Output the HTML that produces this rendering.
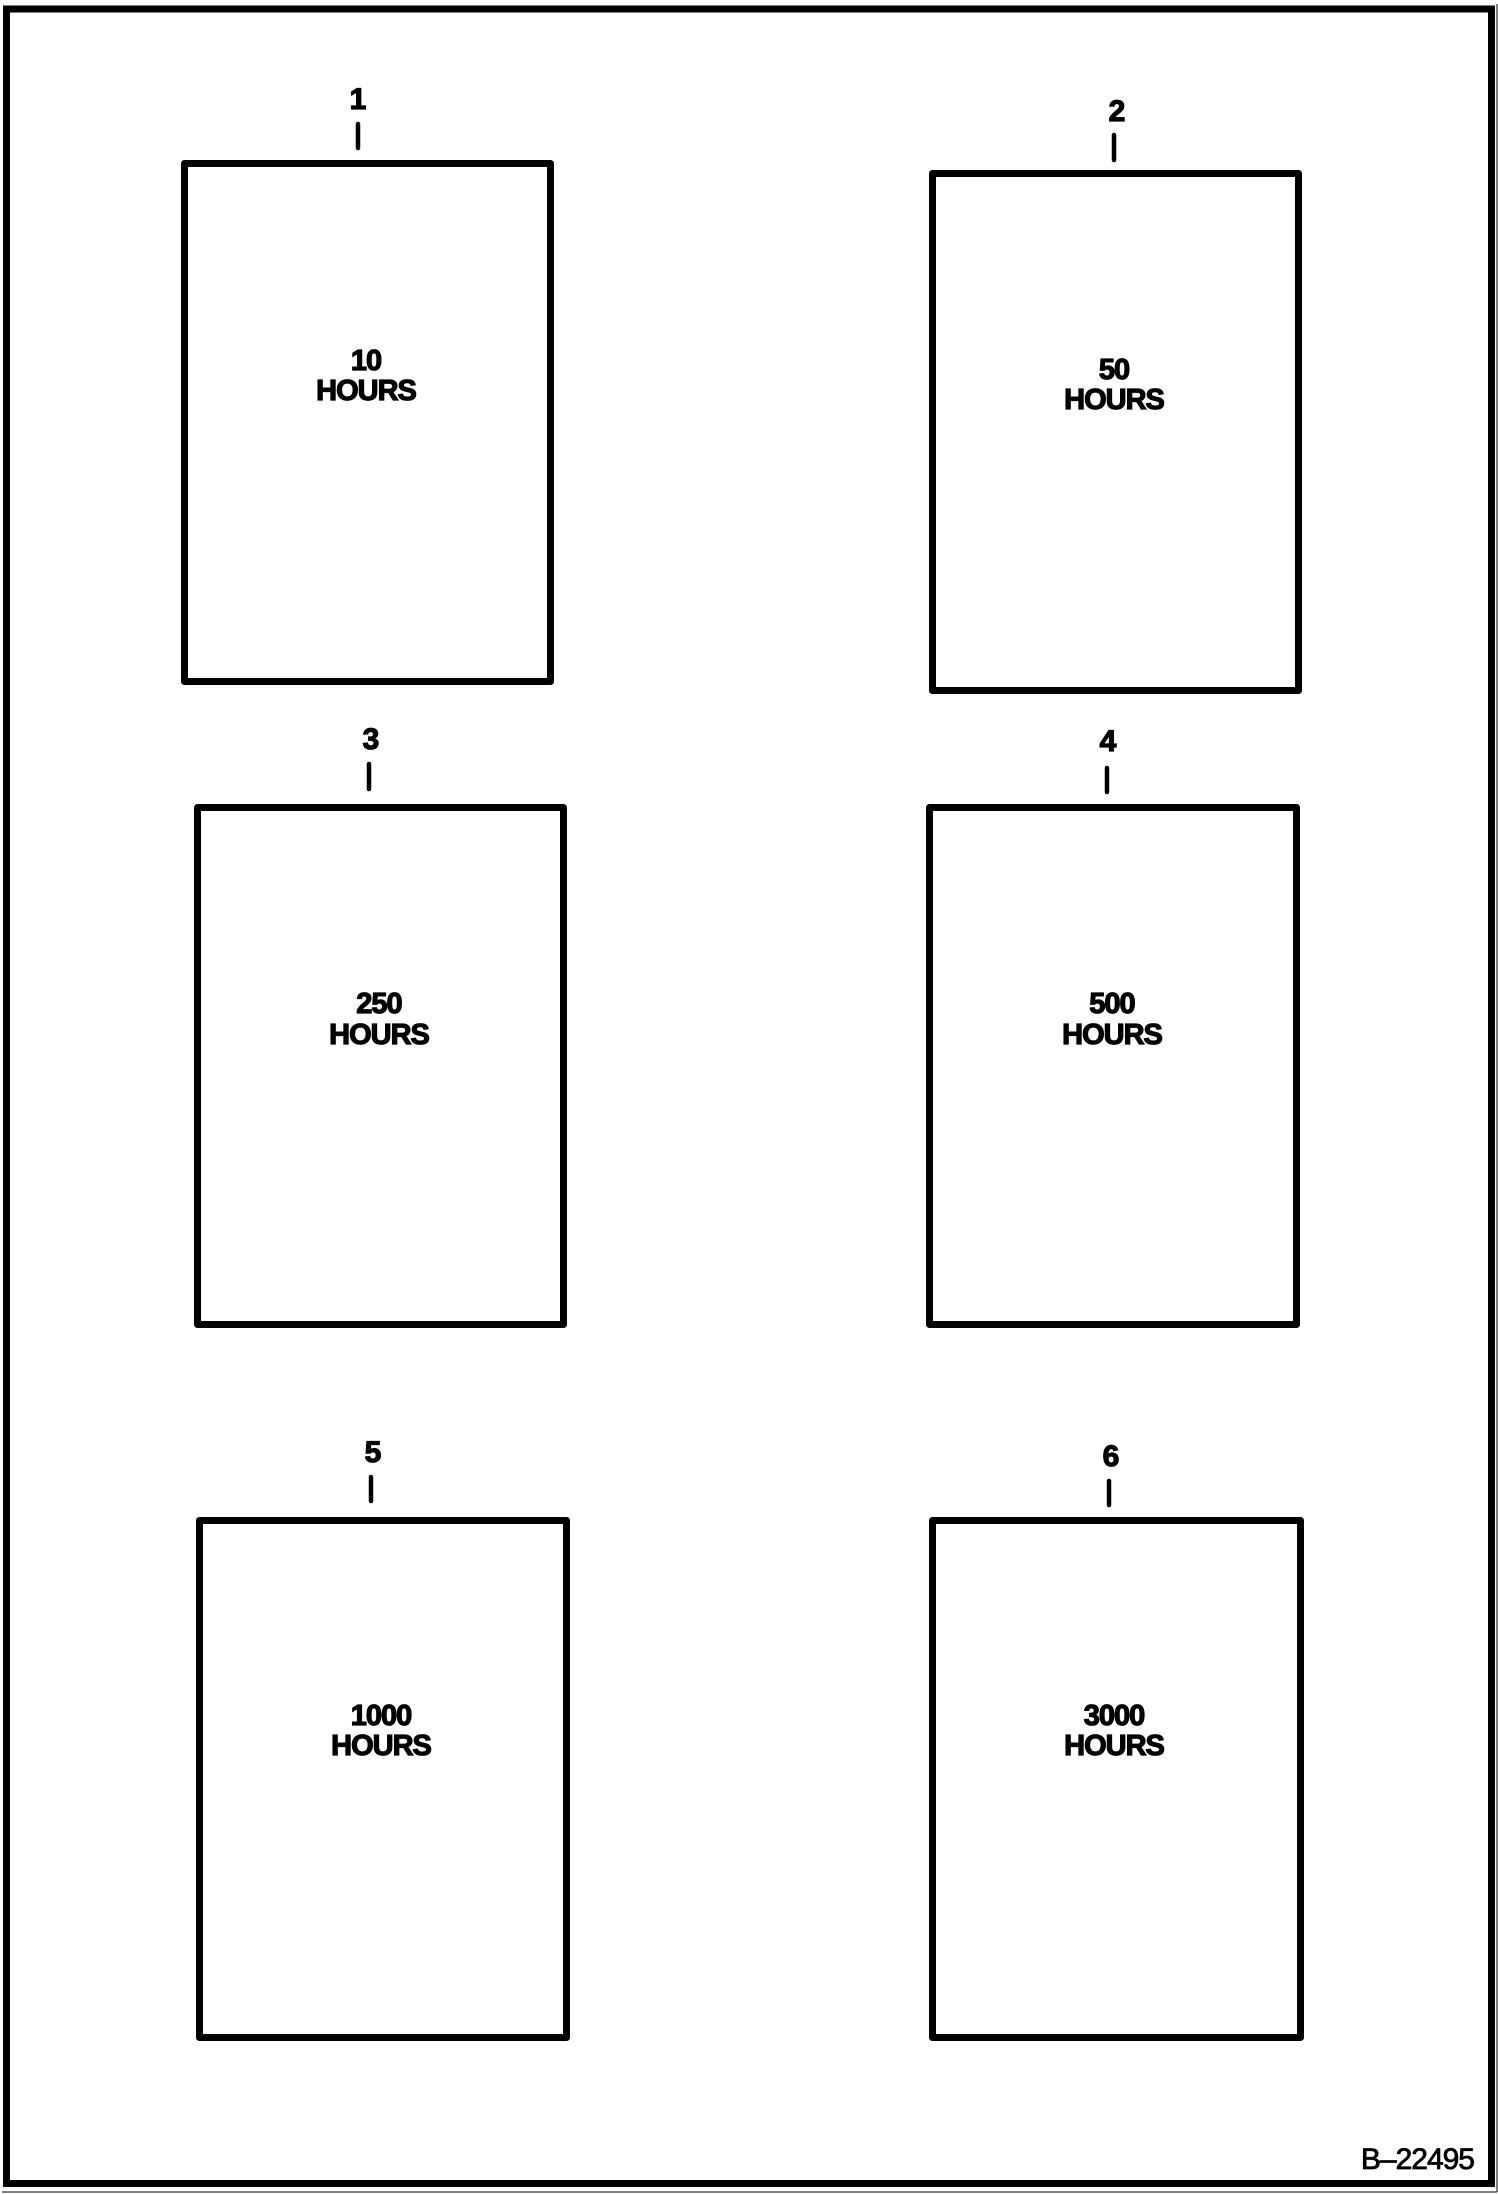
<!DOCTYPE html>
<html><head><meta charset="utf-8"><style>
html,body{margin:0;padding:0;background:#fff;}
svg{display:block;}
text{font-family:"Liberation Sans",sans-serif;font-weight:bold;fill:#000;stroke:#000;stroke-width:1.2;}
</style></head><body>
<svg width="1498" height="2194" viewBox="0 0 1498 2194" xmlns="http://www.w3.org/2000/svg">
<rect x="0" y="0" width="1498" height="2194" fill="#fff"/>
<rect x="6.5" y="9" width="1485" height="2174.5" fill="none" stroke="#000" stroke-width="7"/>
<line x1="1497" y1="4" x2="1497" y2="2192" stroke="#000" stroke-width="1"/>
<line x1="2" y1="2192" x2="1497" y2="2192" stroke="#000" stroke-width="1"/>
<g fill="none" stroke="#000" stroke-width="7" stroke-linejoin="round">
<rect x="184.5" y="163.5" width="366" height="518"/>
<rect x="932.5" y="173.5" width="366" height="517"/>
<rect x="197.5" y="807.5" width="366" height="517"/>
<rect x="929.5" y="807.5" width="367" height="517"/>
<rect x="199.5" y="1520.5" width="367" height="517"/>
<rect x="932.5" y="1520.5" width="368" height="517"/>
</g>
<g stroke="#000" stroke-width="4.5" stroke-linecap="round">
<line x1="358" y1="124" x2="358" y2="148"/>
<line x1="1114" y1="135" x2="1114" y2="160"/>
<line x1="369" y1="764" x2="369" y2="789"/>
<line x1="1107" y1="768" x2="1107" y2="792"/>
<line x1="371" y1="1477" x2="371" y2="1501"/>
<line x1="1109" y1="1481" x2="1109" y2="1505"/>
</g>
<g font-size="30" text-anchor="middle">
<text x="358" y="109">1</text>
<text x="1117" y="121">2</text>
<text x="371" y="749">3</text>
<text x="1108" y="751">4</text>
<text x="373" y="1462">5</text>
<text x="1111" y="1466">6</text>
</g>
<g font-size="29" text-anchor="middle" letter-spacing="-1">
<text x="366" y="370">10</text>
<text x="366" y="400">HOURS</text>
<text x="1114" y="379">50</text>
<text x="1114" y="409">HOURS</text>
<text x="379" y="1013">250</text>
<text x="379" y="1044">HOURS</text>
<text x="1112" y="1013">500</text>
<text x="1112" y="1044">HOURS</text>
<text x="381" y="1725">1000</text>
<text x="381" y="1755">HOURS</text>
<text x="1114" y="1725">3000</text>
<text x="1114" y="1755">HOURS</text>
</g>
<text x="1474" y="2169" font-size="30" text-anchor="end" style="font-weight:normal;stroke-width:0.8" letter-spacing="-1">B–22495</text>
</svg>
</body></html>
